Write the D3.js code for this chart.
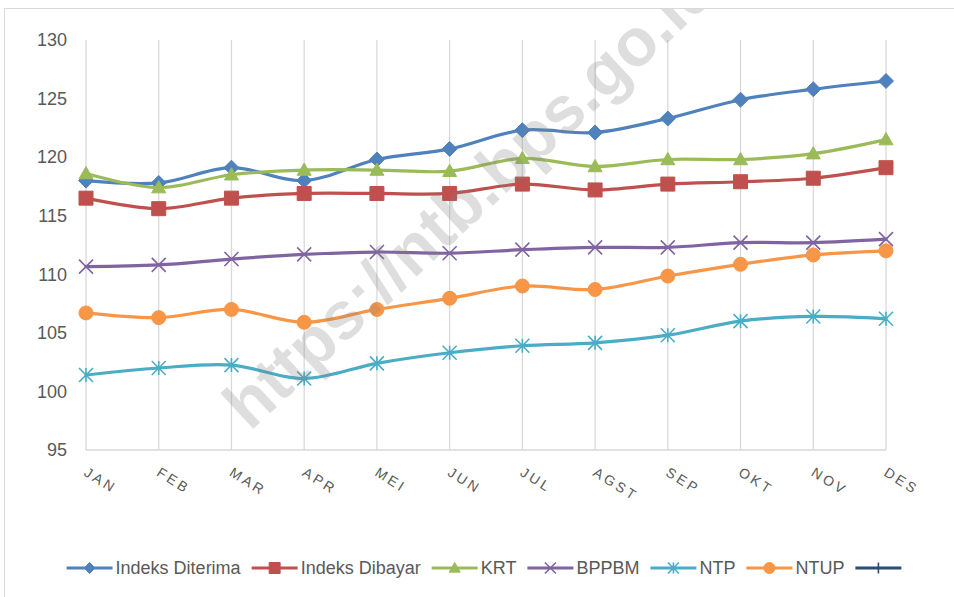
<!DOCTYPE html>
<html>
<head>
<meta charset="utf-8">
<script src="https://cdn.jsdelivr.net/npm/d3@7"></script>
<style>
  body { margin: 0; background: #fff; }
  svg { display: block; }
</style>
</head>
<body>
<script>
// ---- data ----
const months = ["JAN", "FEB", "MAR", "APR", "MEI", "JUN", "JUL", "AGST", "SEP", "OKT", "NOV", "DES"]
const indeksDiterima = [118.0, 117.8, 119.1, 118.0, 119.8, 120.7, 122.3, 122.1, 123.3, 124.9, 125.8, 126.5]
const indeksDibayar = [116.5, 115.6, 116.5, 116.9, 116.9, 116.9, 117.7, 117.2, 117.7, 117.9, 118.2, 119.1]
const krt = [118.6, 117.4, 118.5, 118.9, 118.9, 118.8, 119.9, 119.2, 119.8, 119.8, 120.3, 121.5]
const bppbm = [110.65, 110.8, 111.3, 111.7, 111.9, 111.8, 112.1, 112.3, 112.3, 112.7, 112.7, 113.0]
const ntp = [101.4, 102.0, 102.25, 101.1, 102.4, 103.3, 103.9, 104.15, 104.8, 106.0, 106.4, 106.2]
const ntup = [106.7, 106.3, 107.0, 105.9, 107.0, 107.95, 109.0, 108.7, 109.85, 110.85, 111.65, 112.0]
const yTicks = [95, 100, 105, 110, 115, 120, 125, 130]
const seriesNames = ["Indeks Diterima", "Indeks Dibayar", "KRT", "BPPBM", "NTP", "NTUP", ""]

const series = [
    { name: seriesNames[0], values: indeksDiterima, color: "#4f81bd", marker: "diamond" },
    { name: seriesNames[1], values: indeksDibayar, color: "#c0504d", marker: "square" },
    { name: seriesNames[2], values: krt, color: "#9bbb59", marker: "triangle" },
    { name: seriesNames[3], values: bppbm, color: "#8064a2", marker: "x" },
    { name: seriesNames[4], values: ntp, color: "#4bacc6", marker: "star" },
    { name: seriesNames[5], values: ntup, color: "#f79646", marker: "circle" },
    { name: seriesNames[6], values: [], color: "#2c4d75", marker: "plus" }
]

const width = 954
const height = 597
const textColor = "#595959"
const gridColor = "#d9d9d9"
const font = "'Liberation Sans', Arial, sans-serif"

const svg = d3.select("body")
    .append("svg")
    .attr("width", width)
    .attr("height", height)
    .style("font-family", font)

// chart border (runs off the right and bottom edges in the reference)
svg.append("rect")
    .attr("x", 4.5)
    .attr("y", 8.5)
    .attr("width", width)
    .attr("height", height)
    .attr("fill", "#fff")
    .attr("stroke", gridColor)

const x = d3.scalePoint().domain(months).range([86, 886])
const y = d3.scaleLinear().domain([95, 130]).range([450, 40])

// vertical gridlines at every category
svg.append("g")
    .selectAll("line")
    .data(months)
    .join("line")
    .attr("x1", (d) => x(d))
    .attr("x2", (d) => x(d))
    .attr("y1", y(130))
    .attr("y2", y(95))
    .attr("stroke", gridColor)
    .attr("stroke-width", 1.3)

// category axis line
svg.append("line")
    .attr("x1", x(months[0]))
    .attr("x2", x(months[months.length - 1]))
    .attr("y1", y(95))
    .attr("y2", y(95))
    .attr("stroke", gridColor)
    .attr("stroke-width", 1.3)

// value labels
svg.append("g")
    .selectAll("text")
    .data(yTicks)
    .join("text")
    .attr("x", 67)
    .attr("y", (d) => y(d))
    .attr("dy", "0.35em")
    .attr("text-anchor", "end")
    .attr("font-size", 18)
    .attr("fill", textColor)
    .text((d) => d)

// rotated, letter-spaced month labels
svg.append("g")
    .selectAll("text")
    .data(months)
    .join("text")
    .attr("transform", (d) => `translate(${x(d) - 3},${475}) rotate(32)`)
    .attr("font-size", 14)
    .attr("letter-spacing", 3)
    .attr("fill", textColor)
    .text((d) => d)

// marker shapes, centred on 0,0
function markerPath(type, s) {
    const h = s / 2
    if (type === "diamond") return `M0,${-h}L${h},0L0,${h}L${-h},0Z`
    if (type === "square") return `M${-h},${-h}h${s}v${s}h${-s}Z`
    if (type === "triangle") return `M0,${-h}L${h},${h * 0.75}L${-h},${h * 0.75}Z`
    if (type === "circle") return `M${h},0A${h},${h} 0 1,1 ${-h},0A${h},${h} 0 1,1 ${h},0Z`
    if (type === "x") return `M${-h},${-h}L${h},${h}M${-h},${h}L${h},${-h}`
    if (type === "star") return `M${-h},${-h}L${h},${h}M${-h},${h}L${h},${-h}M0,${-h}V${h}`
    if (type === "plus") return `M0,${-h}V${h}M${-h},0H${h}`
}
const openMarker = (type) => type === "x" || type === "star" || type === "plus"

const line = d3.line()
    .x((d, i) => x(months[i]))
    .y((d) => y(d))
    .curve(d3.curveCatmullRom.alpha(0.5))

// one group per series: smooth line, then its markers
series.filter((s) => s.values.length).forEach((s) => {
    const g = svg.append("g")
    g.append("path")
        .attr("d", line(s.values))
        .attr("fill", "none")
        .attr("stroke", s.color)
        .attr("stroke-width", 3.2)
        .attr("stroke-linejoin", "round")
        .attr("stroke-linecap", "round")
    g.selectAll("path.marker")
        .data(s.values)
        .join("path")
        .attr("class", "marker")
        .attr("transform", (d, i) => `translate(${x(months[i])},${y(d)})`)
        .attr("d", markerPath(s.marker, s.marker === "diamond" ? 15 : 14))
        .attr("fill", openMarker(s.marker) ? "none" : s.color)
        .attr("stroke", s.color)
        .attr("stroke-width", openMarker(s.marker) ? 1.6 : 1)
})

// watermark, clipped to the chart area
svg.append("clipPath")
    .attr("id", "chart-clip")
    .append("rect")
    .attr("x", 5)
    .attr("y", 9)
    .attr("width", width)
    .attr("height", height)
svg.append("g")
    .attr("clip-path", "url(#chart-clip)")
    .append("text")
    .attr("transform", "translate(250,432) rotate(-43)")
    .attr("font-size", 67)
    .attr("font-weight", "bold")
    .attr("fill", "#7f7f7f")
    .attr("opacity", 0.25)
    .text("https://ntb.bps.go.id")

// legend
const legend = svg.append("g").attr("id", "legend")
const legendY = 568
const lineLen = 46
const gap = 11
let cursor = 0
series.forEach((s) => {
    const item = legend.append("g")
    item.append("line")
        .attr("x1", 0)
        .attr("x2", lineLen)
        .attr("y1", 0)
        .attr("y2", 0)
        .attr("stroke", s.color)
        .attr("stroke-width", 3.2)
    item.append("path")
        .attr("transform", `translate(${lineLen / 2},0)`)
        .attr("d", markerPath(s.marker, 11))
        .attr("fill", openMarker(s.marker) ? "none" : s.color)
        .attr("stroke", s.color)
        .attr("stroke-width", openMarker(s.marker) ? 1.6 : 1)
    const label = item.append("text")
        .attr("x", lineLen + 3)
        .attr("dy", "0.35em")
        .attr("font-size", 18)
        .attr("fill", textColor)
        .text(s.name)
    const w = lineLen + (s.name ? 3 + label.node().getComputedTextLength() : 0)
    item.attr("transform", `translate(${cursor},${legendY})`)
    cursor += w + gap
})
const legendWidth = cursor - gap
legend.attr("transform", `translate(${484 - legendWidth / 2},0)`)
</script>
</body>
</html>
